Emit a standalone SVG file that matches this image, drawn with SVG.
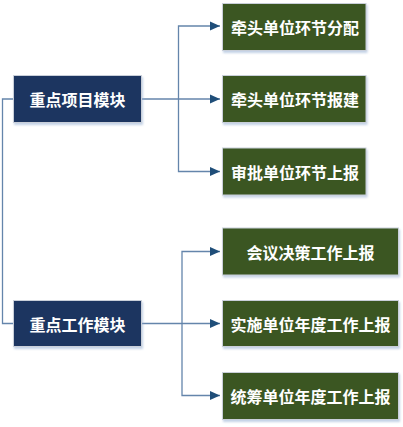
<svg xmlns="http://www.w3.org/2000/svg" width="403" height="427" viewBox="0 0 403 427">
<defs>
<marker id="arr" viewBox="0 0 10 10" refX="10" refY="5" markerWidth="10" markerHeight="10" markerUnits="userSpaceOnUse" orient="auto">
<path d="M0,0.5 L10,5 L0,9.5 Z" fill="#1f4e79"/>
</marker>
<filter id="sh" x="-10%" y="-10%" width="130%" height="140%">
<feDropShadow dx="1" dy="2" stdDeviation="1.2" flood-color="#9bb3d4" flood-opacity="0.6"/>
</filter>
</defs>
<style>
.blue{fill:#1e3560;stroke:#c9cfd9;stroke-width:1;filter:url(#sh)}
.green{fill:#3a5623;stroke:#c9cfd9;stroke-width:1;filter:url(#sh)}
.t{fill:#ffffff;font-family:"Noto Sans CJK SC","Noto Sans CJK JP",sans-serif;font-weight:bold;font-size:16px;text-anchor:middle;dominant-baseline:central}
.ln{fill:none;stroke:#6485ab;stroke-width:1.3}
</style>
<rect width="403" height="427" fill="#ffffff"/>
<g id="connectors">
<path class="ln" d="M13,99 H2.5 V323.5 H13"/>
<path class="ln" d="M141,99 H220" marker-end="url(#arr)"/>
<path class="ln" d="M178.5,99 V26 H220" marker-end="url(#arr)"/>
<path class="ln" d="M178.5,99 V171.5 H220" marker-end="url(#arr)"/>
<path class="ln" d="M141,323.5 H220" marker-end="url(#arr)"/>
<path class="ln" d="M182,323.5 V251.5 H220" marker-end="url(#arr)"/>
<path class="ln" d="M182,323.5 V395.5 H220" marker-end="url(#arr)"/>
</g>
<g id="n1"><rect class="blue" x="13.5" y="75.5" width="128" height="47"/><text class="t" x="77.5" y="99">重点项目模块</text></g>
<g id="n2"><rect class="blue" x="13.5" y="300.5" width="128" height="46"/><text class="t" x="77.5" y="323.5">重点工作模块</text></g>
<g id="g1"><rect class="green" x="222.5" y="3.5" width="143.5" height="47"/><text class="t" x="295" y="27">牵头单位环节分配</text></g>
<g id="g2"><rect class="green" x="222.5" y="75.5" width="143.5" height="47"/><text class="t" x="295" y="99">牵头单位环节报建</text></g>
<g id="g3"><rect class="green" x="222.5" y="148" width="143.5" height="47"/><text class="t" x="295" y="171.5">审批单位环节上报</text></g>
<g id="g4"><rect class="green" x="222.5" y="228" width="176" height="47"/><text class="t" x="310.5" y="252">会议决策工作上报</text></g>
<g id="g5"><rect class="green" x="222.5" y="300.5" width="176" height="46"/><text class="t" x="310.5" y="324">实施单位年度工作上报</text></g>
<g id="g6"><rect class="green" x="222.5" y="372.5" width="176" height="47"/><text class="t" x="310.5" y="396">统筹单位年度工作上报</text></g>
</svg>
